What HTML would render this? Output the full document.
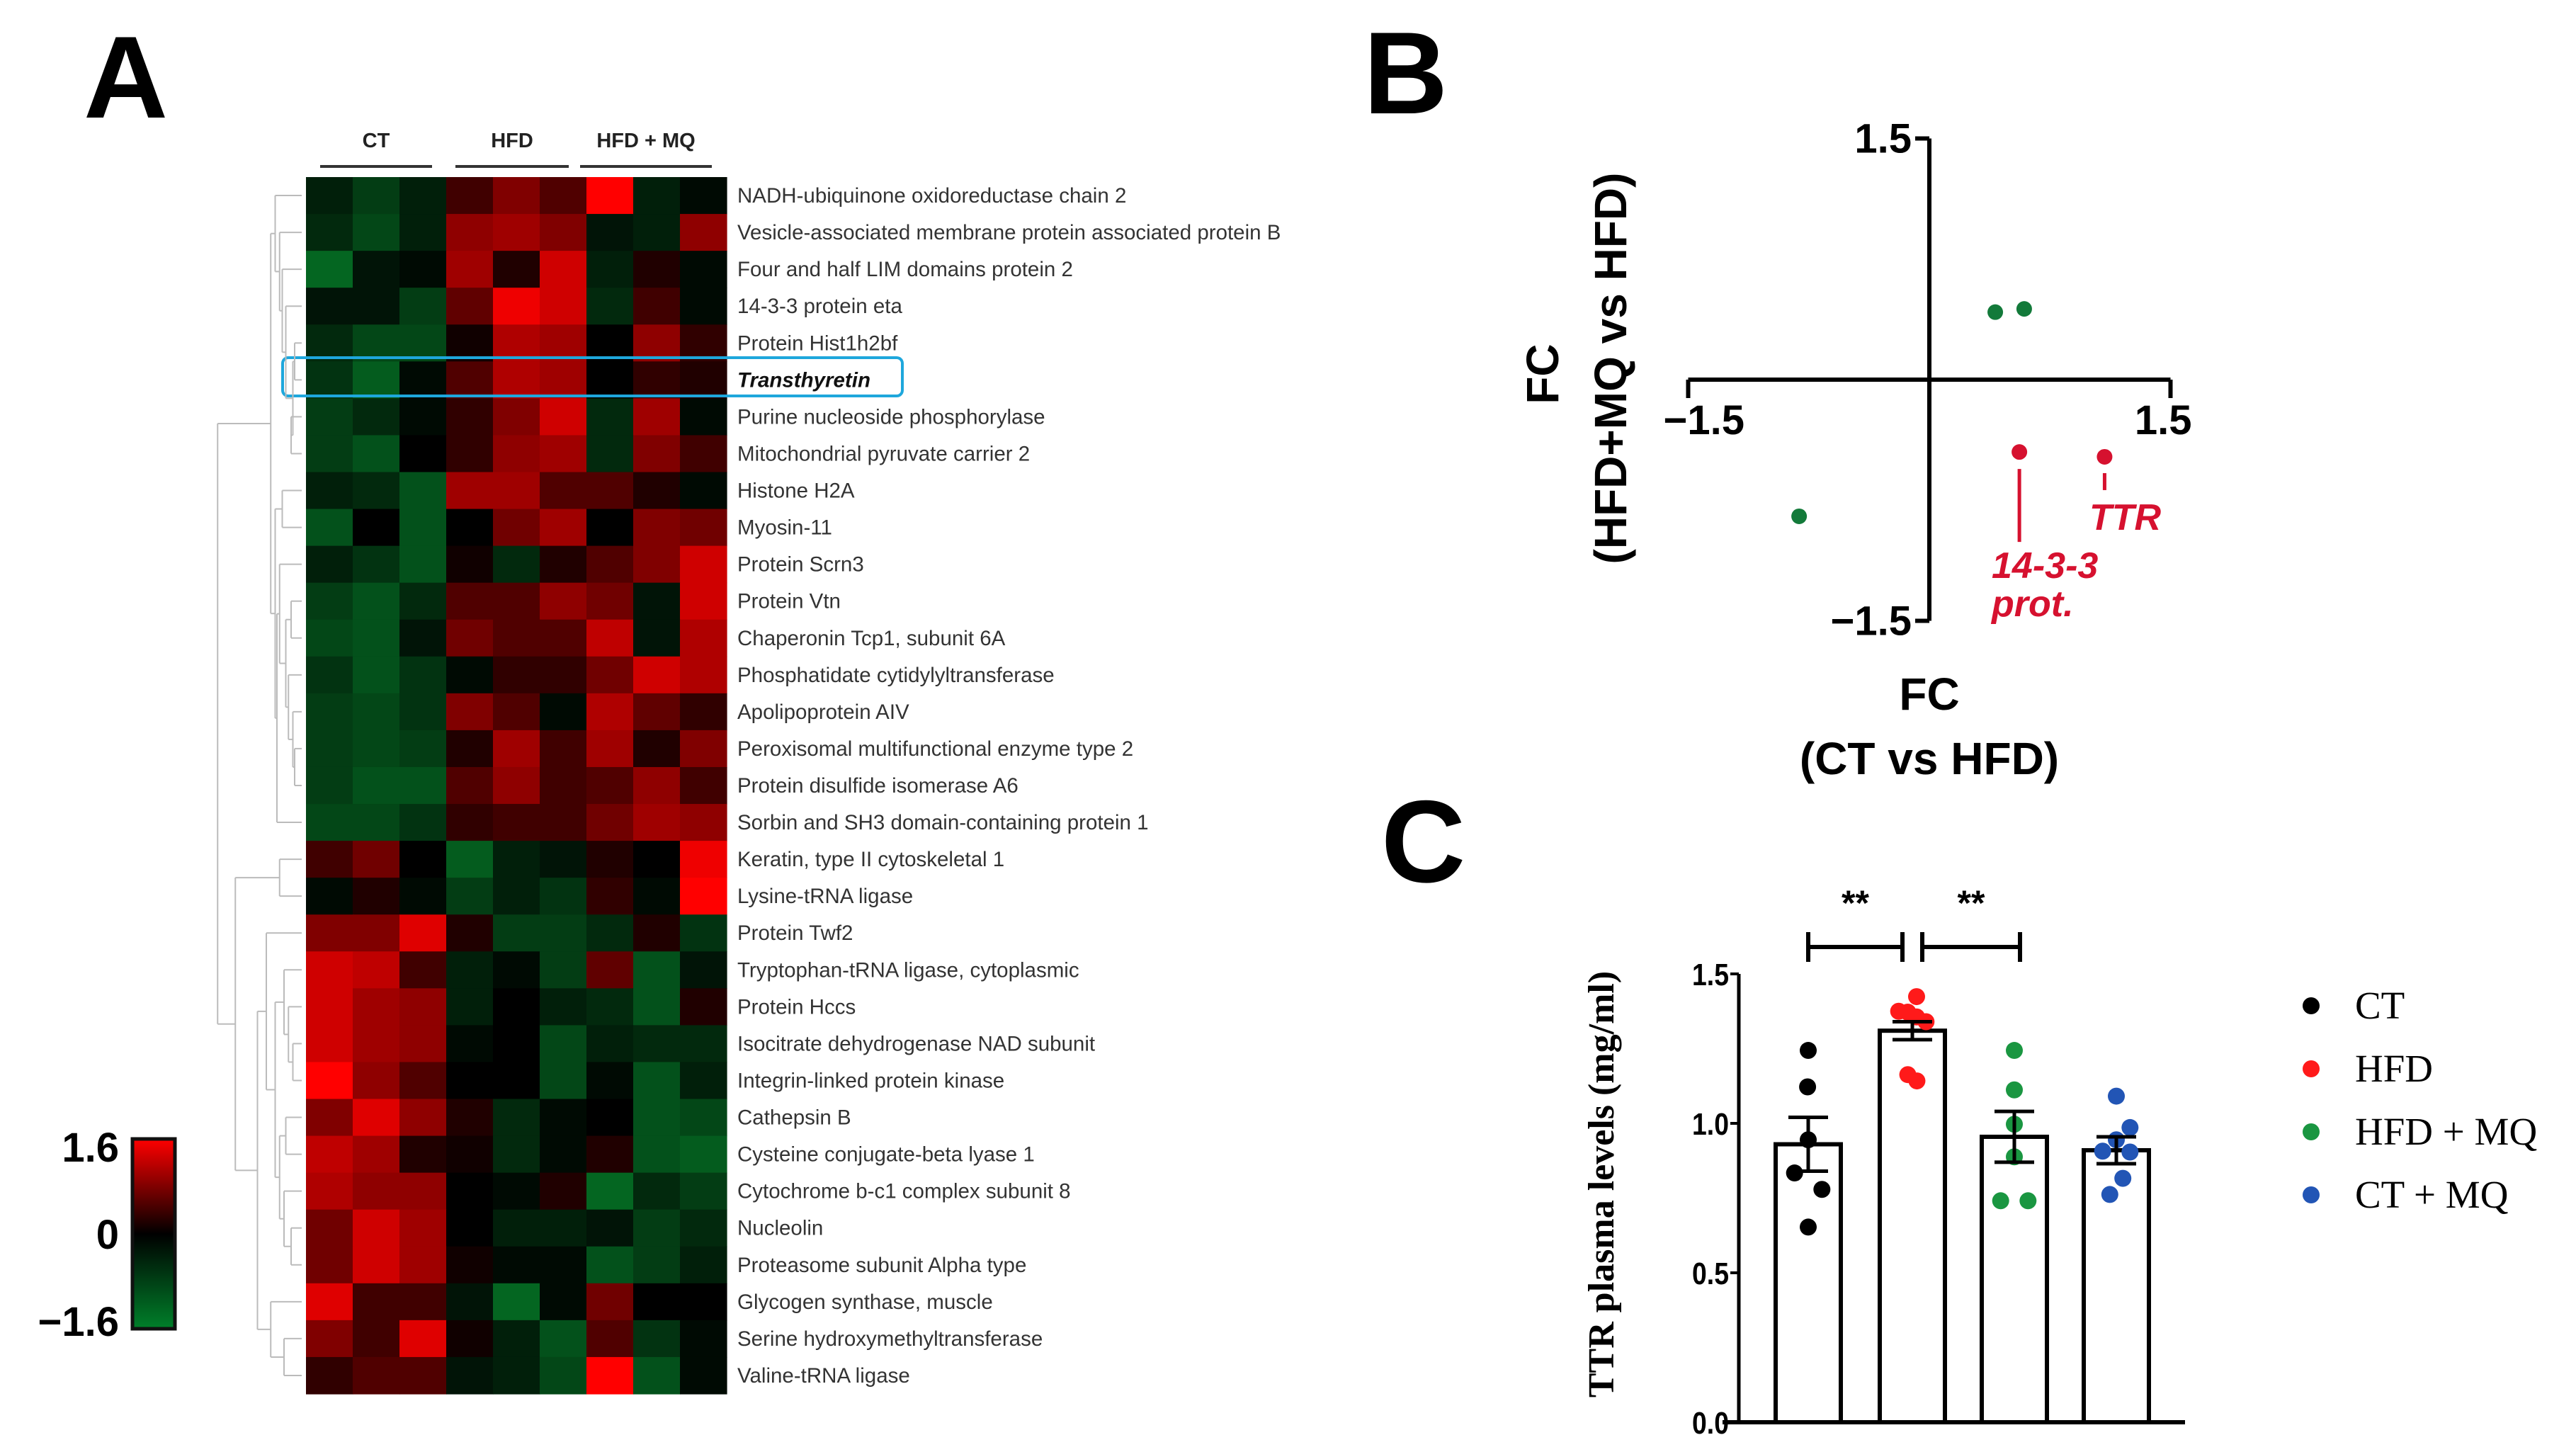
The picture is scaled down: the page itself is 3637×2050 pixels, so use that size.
<!DOCTYPE html>
<html><head><meta charset="utf-8">
<style>
html,body{margin:0;padding:0;background:#fff;}
svg{display:block;}
text{font-family:"Liberation Sans",Arial,sans-serif;}
.serif{font-family:"Liberation Serif","Times New Roman",serif;}
</style></head>
<body>
<svg id="fig" width="3637" height="2050" viewBox="0 0 3637 2050" xmlns="http://www.w3.org/2000/svg">
<g id="panelA"></g>
<g id="panelB"></g>
<g id="panelC"></g>
</svg>
<script>
// ---------- Panel A data ----------
const proteins = ["NADH-ubiquinone oxidoreductase chain 2","Vesicle-associated membrane protein associated protein B","Four and half LIM  domains protein 2","14-3-3 protein eta","Protein Hist1h2bf","Transthyretin","Purine nucleoside phosphorylase","Mitochondrial pyruvate carrier 2","Histone H2A","Myosin-11","Protein Scrn3","Protein Vtn","Chaperonin Tcp1, subunit 6A","Phosphatidate cytidylyltransferase","Apolipoprotein AIV","Peroxisomal multifunctional enzyme type 2","Protein disulfide isomerase A6","Sorbin and SH3 domain-containing protein 1","Keratin, type II cytoskeletal 1","Lysine-tRNA ligase","Protein Twf2","Tryptophan-tRNA ligase, cytoplasmic","Protein Hccs","Isocitrate dehydrogenase NAD subunit","Integrin-linked protein kinase","Cathepsin B","Cysteine conjugate-beta lyase 1","Cytochrome b-c1 complex subunit 8","Nucleolin","Proteasome subunit Alpha type","Glycogen synthase, muscle","Serine hydroxymethyltransferase","Valine-tRNA ligase"];
const groups = ["CT","HFD","HFD + MQ"];
const heatValues = [
[-0.3,-0.6,-0.3, 0.4,0.8,0.5, 1.6,-0.3,-0.1],
[-0.4,-0.7,-0.3, 0.9,1.0,0.8, -0.2,-0.3,0.9],
[-1.0,-0.2,-0.1, 1.0,0.2,1.3, -0.3,0.2,-0.1],
[-0.2,-0.2,-0.6, 0.6,1.5,1.3, -0.4,0.4,-0.1],
[-0.4,-0.7,-0.7, 0.1,1.1,1.0, 0.0,0.9,0.3],
[-0.5,-0.9,-0.1, 0.5,1.1,1.0, 0.0,0.3,0.2],
[-0.6,-0.4,-0.1, 0.3,0.8,1.3, -0.4,1.0,-0.1],
[-0.6,-0.8,0.0, 0.3,0.9,1.0, -0.4,0.8,0.4],
[-0.3,-0.4,-0.8, 1.0,1.0,0.5, 0.5,0.2,-0.1],
[-0.8,0.0,-0.8, 0.0,0.7,1.0, 0.0,0.8,0.7],
[-0.3,-0.5,-0.8, 0.1,-0.4,0.2, 0.5,0.8,1.3],
[-0.6,-0.8,-0.4, 0.5,0.5,0.9, 0.7,-0.2,1.3],
[-0.7,-0.8,-0.2, 0.7,0.5,0.5, 1.2,-0.2,1.1],
[-0.5,-0.8,-0.5, -0.1,0.3,0.3, 0.7,1.3,1.1],
[-0.6,-0.7,-0.5, 0.8,0.5,-0.1, 1.1,0.6,0.3],
[-0.6,-0.7,-0.6, 0.2,1.0,0.4, 1.0,0.2,0.8],
[-0.6,-0.8,-0.8, 0.5,0.9,0.4, 0.5,0.9,0.4],
[-0.7,-0.7,-0.5, 0.3,0.4,0.4, 0.7,1.0,0.9],
[0.4,0.7,0.0, -0.9,-0.3,-0.2, 0.2,0.0,1.5],
[-0.1,0.2,-0.1, -0.6,-0.3,-0.5, 0.3,-0.1,1.6],
[0.8,0.8,1.4, 0.2,-0.6,-0.6, -0.4,0.2,-0.5],
[1.3,1.2,0.4, -0.3,-0.1,-0.6, 0.6,-0.8,-0.2],
[1.3,1.0,0.9, -0.3,0.0,-0.3, -0.4,-0.8,0.2],
[1.3,1.0,0.9, -0.1,0.0,-0.7, -0.3,-0.4,-0.4],
[1.6,0.9,0.5, 0.0,0.0,-0.7, -0.1,-0.8,-0.3],
[0.8,1.4,0.9, 0.2,-0.4,-0.1, 0.0,-0.8,-0.7],
[1.2,1.0,0.2, 0.1,-0.4,-0.1, 0.2,-0.8,-0.9],
[1.1,0.9,0.9, 0.0,-0.1,0.2, -1.0,-0.4,-0.6],
[0.7,1.3,1.0, 0.0,-0.3,-0.3, -0.2,-0.6,-0.4],
[0.7,1.3,1.0, 0.1,-0.1,-0.1, -0.8,-0.6,-0.3],
[1.4,0.4,0.4, -0.2,-1.0,-0.1, 0.7,0.0,0.0],
[0.8,0.4,1.4, 0.1,-0.3,-0.8, 0.5,-0.5,-0.1],
[0.3,0.5,0.5, -0.2,-0.3,-0.7, 1.6,-0.8,-0.1]
];
const colorTicks = ["1.6","0","\u22121.6"];
const colorTickValues = [1.6,0,-1.6];
// dendrogram: [height, left, right]
const dendro = [0.95,
 [0.35,[0.3,0,[0.25,1,[0.22,2,[0.18,3,[0.1,[0.08,4,5],[0.12,6,7]]]]]],
       [0.3,[0.22,8,9],[0.28,[0.25,10,[0.18,[0.12,11,12],[0.15,13,[0.1,14,[0.08,15,16]]]]],17]]],
 [0.75,[0.25,18,19],[0.5,[0.4,20,[0.3,[0.2,21,[0.15,22,[0.1,23,24]]],[0.25,[0.18,25,26],[0.2,27,[0.12,28,29]]]]],[0.35,30,[0.2,31,32]]]]];

// ---------- Panel B data ----------
const fcPointsX = [0.41,0.59,-0.81,0.56,1.09];
const fcPointsY = [0.42,0.44,-0.85,-0.45,-0.48];
const fcPointColors = ["green","green","green","red","red"];
const fcTicks = ["\u22121.5","1.5"];

// ---------- Panel C data ----------
const barGroups = ["CT","HFD","HFD + MQ","CT + MQ"];
const barMeans = [0.93,1.31,0.955,0.91];
const barSEM = [0.09,0.03,0.085,0.045];
const ptsCT = [1.244,1.122,0.945,0.834,0.779,0.653];
const ptsHFD = [1.424,1.375,1.372,1.356,1.340,1.163,1.142];
const ptsMQ = [1.244,1.112,0.997,0.888,0.741,0.741];
const ptsCTMQ = [1.091,0.986,0.945,0.907,0.904,0.816,0.762];
const jitCT = [0,-0.02,0,-0.42,0.42,0];
const jitHFD = [0.13,-0.42,-0.14,0.13,0.42,-0.14,0.14];
const jitMQ = [0,0,0,0,-0.42,0.42];
const jitCTMQ = [0,0.42,0,-0.42,0.42,0.2,-0.2];
const yTicksC = [0,0.5,1.0,1.5];
const yTickLabelsC = ["0.0","0.5","1.0","1.5"];
const groupColors = ["#000000","#ff1a1a","#1a9641","#2255b5"];

const NS="http://www.w3.org/2000/svg";
function mk(parent,tag,attrs,txt){const e=document.createElementNS(NS,tag);for(const k in attrs)e.setAttribute(k,attrs[k]);if(txt!==undefined)e.textContent=txt;parent.appendChild(e);return e;}

// ================= Panel A =================
const A=document.getElementById('panelA');
let t=mk(A,'text',{x:118,y:166,'font-size':165,'font-weight':'bold'},'A');



const hx0=432,hy0=250,cw=66,ch=(1968-250)/33;
function heatColor(v){
  if(v>=0){const r=Math.round(Math.min(1,v/1.6)*255);return `rgb(${r},0,0)`;}
  const a=Math.min(1,-v/1.2);return `rgb(${Math.round(a*5)},${Math.round(a*122)},${Math.round(a*40)})`;
}
heatValues.forEach((row,i)=>{
  row.forEach((v,j)=>{
    const r=mk(A,'rect',{x:hx0+j*cw,y:hy0+i*ch,width:cw+0.6,height:ch+0.6,fill:heatColor(v)});
    
    
  });
  const lbl=mk(A,'text',{x:1041,y:hy0+i*ch+ch/2+10,'font-size':29.5,fill:'#333'},proteins[i]);
  if(i===5){lbl.setAttribute('font-weight','bold');lbl.setAttribute('font-style','italic');lbl.setAttribute('fill','#111');}
  
  
});
// group headers
const gx=[[452,610],[643,803],[819,1005]];
groups.forEach((g,k)=>{
  const tt=mk(A,'text',{x:(gx[k][0]+gx[k][1])/2,y:208,'font-size':29,'font-weight':'bold','text-anchor':'middle',fill:'#222'},g);
  
  
  const ln=mk(A,'line',{x1:gx[k][0],x2:gx[k][1],y1:235,y2:235,stroke:'#333','stroke-width':4});
  
  
});
// highlight box
const hb=mk(A,'rect',{x:399,y:505,width:875,height:54,rx:8,fill:'none',stroke:'#1ea7dc','stroke-width':4});


// dendrogram
const dg=mk(A,'g',{stroke:'#bbb','stroke-width':2,fill:'none'});


function drawNode(n){
  if(typeof n==='number') return {x:hx0-6,y:hy0+n*ch+ch/2};
  const x=hx0-6-n[0]*125;const a=drawNode(n[1]),b=drawNode(n[2]);
  mk(dg,'line',{x1:a.x,x2:x,y1:a.y,y2:a.y});
  mk(dg,'line',{x1:b.x,x2:x,y1:b.y,y2:b.y});
  mk(dg,'line',{x1:x,x2:x,y1:a.y,y2:b.y});
  return {x:x,y:(a.y+b.y)/2};
}
drawNode(dendro);
// color bar
const defs=mk(A,'defs',{});
const grad=mk(defs,'linearGradient',{id:'cbg',x1:0,y1:0,x2:0,y2:1});
mk(grad,'stop',{offset:'0',"stop-color":'#ff0000'});
mk(grad,'stop',{offset:'0.5',"stop-color":'#000000'});
mk(grad,'stop',{offset:'1',"stop-color":'#00802a'});
const cb=mk(A,'rect',{x:187,y:1608,width:60,height:268,fill:'url(#cbg)',stroke:'#111','stroke-width':5});


colorTicks.forEach((s,k)=>{
  const y=1742-colorTickValues[k]/1.6*123;
  const ct=mk(A,'text',{x:168,y:y+21,'font-size':58,'font-weight':'bold','text-anchor':'end'},s);
  
  
});

// ================= Panel B =================
const B=document.getElementById('panelB');
t=mk(B,'text',{x:1925,y:160,'font-size':165,'font-weight':'bold'},'B');


const bcx=2724,bcy=536,bs=227;
const bx=v=>bcx+v*bs, by=v=>bcy-v*bs;
const axB=mk(B,'g',{stroke:'#000','stroke-width':6,fill:'none'});


mk(axB,'line',{x1:bx(0),x2:bx(0),y1:by(1.5),y2:by(-1.5)});
mk(axB,'line',{x1:bx(-1.5),x2:bx(1.5),y1:by(0),y2:by(0)});
mk(axB,'line',{x1:bx(-1.5),x2:bx(-1.5),y1:by(0),y2:by(0)+26});
mk(axB,'line',{x1:bx(1.5),x2:bx(1.5),y1:by(0),y2:by(0)+26});
mk(axB,'line',{x1:bx(0),x2:bx(0)-20,y1:by(1.5),y2:by(1.5)});
mk(axB,'line',{x1:bx(0),x2:bx(0)-20,y1:by(-1.5),y2:by(-1.5)});
[[bx(-1.5)-35,by(0)+77,fcTicks[0],'start'],[bx(1.5)+30,by(0)+77,fcTicks[1],'end'],[bx(0)-25,by(1.5)+20,fcTicks[1],'end'],[bx(0)-25,by(-1.5)+20,fcTicks[0],'end']].forEach(d=>{
  const tk=mk(B,'text',{x:d[0],y:d[1],'font-size':58,'font-weight':'bold','text-anchor':d[3]},d[2]);
  
  
});
fcPointsX.forEach((v,i)=>{
  const c=mk(B,'circle',{cx:bx(v),cy:by(fcPointsY[i]),r:11,fill:fcPointColors[i]==='green'?'#137a3a':'#d6112f'});
  
  
});
let al=mk(B,'line',{x1:bx(fcPointsX[3]),x2:bx(fcPointsX[3]),y1:by(fcPointsY[3])+24,y2:by(fcPointsY[3])+127,stroke:'#d6112f','stroke-width':5});


al=mk(B,'line',{x1:bx(fcPointsX[4]),x2:bx(fcPointsX[4]),y1:by(fcPointsY[4])+23,y2:by(fcPointsY[4])+47,stroke:'#d6112f','stroke-width':5});


[[2812,816,'14-3-3'],[2812,870,'prot.'],[2950,748,'TTR']].forEach(d=>{
  const a=mk(B,'text',{x:d[0],y:d[1],'font-size':52,'font-weight':'bold','font-style':'italic',fill:'#d6112f'},d[2]);
  
  
});
let yt=mk(B,'text',{x:0,y:0,'font-size':64,'font-weight':'bold','text-anchor':'middle',transform:'translate(2200,528) rotate(-90)'},'FC');


yt=mk(B,'text',{x:0,y:0,'font-size':64,'font-weight':'bold','text-anchor':'middle',transform:'translate(2296,520) rotate(-90)'},'(HFD+MQ vs HFD)');


yt=mk(B,'text',{x:2724,y:1002,'font-size':64,'font-weight':'bold','text-anchor':'middle'},'FC');


yt=mk(B,'text',{x:2724,y:1093,'font-size':64,'font-weight':'bold','text-anchor':'middle'},'(CT vs HFD)');



// ================= Panel C =================
const C=document.getElementById('panelC');
t=mk(C,'text',{x:1950,y:1245,'font-size':165,'font-weight':'bold'},'C');


const cy0=2008, cys=422, axX=2455;
const cyv=v=>cy0-v*cys;
const barCenters=[2553,2700,2844,2988], barW=92;
const cx=(i,j)=>barCenters[i]+j*barW/2;
let ax=mk(C,'line',{x1:axX,x2:axX,y1:cyv(1.5),y2:cy0,stroke:'#000','stroke-width':5});


ax=mk(C,'line',{x1:2432,x2:3085,y1:cy0,y2:cy0,stroke:'#000','stroke-width':6});


yTicksC.forEach((v,k)=>{
  const tl=mk(C,'line',{x1:axX-12,x2:axX,y1:cyv(v),y2:cyv(v),stroke:'#000','stroke-width':4});
  
  
  const tx=mk(C,'text',{x:axX-14,y:cyv(v)+16,'font-size':44,'font-weight':'bold','text-anchor':'end',transform:`translate(${axX-14},0) scale(0.85,1) translate(${-(axX-14)},0)`},yTickLabelsC[k]);
  
  
});
barMeans.forEach((m,i)=>{
  const r=mk(C,'rect',{x:barCenters[i]-barW/2,y:cyv(m),width:barW,height:cy0-cyv(m),fill:'#fff',stroke:'#000','stroke-width':6});
  
  
});
[ptsCT,ptsHFD,ptsMQ,ptsCTMQ].forEach((arr,i)=>{
  const jit=[jitCT,jitHFD,jitMQ,jitCTMQ][i];
  arr.forEach((v,j)=>{
    const c=mk(C,'circle',{cx:cx(i,jit[j]),cy:cyv(v),r:12,fill:groupColors[i]});
    
    
  });
});
barMeans.forEach((m,i)=>{
  const g=mk(C,'g',{stroke:'#000','stroke-width':5});
  
  
  const x=barCenters[i];
  mk(g,'line',{x1:x,x2:x,y1:cyv(m-barSEM[i]),y2:cyv(m+barSEM[i])});
  mk(g,'line',{x1:x-28,x2:x+28,y1:cyv(m-barSEM[i]),y2:cyv(m-barSEM[i])});
  mk(g,'line',{x1:x-28,x2:x+28,y1:cyv(m+barSEM[i]),y2:cyv(m+barSEM[i])});
});
[[0,1],[1,2]].forEach((p,k)=>{
  const g=mk(C,'g',{stroke:'#000','stroke-width':6});
  
  
  const x1=barCenters[p[0]]+(k===0?0:14), x2=barCenters[p[1]]-(k===0?14:0)+(k===0?0:8);
  mk(g,'line',{x1:x1,x2:x2,y1:1337,y2:1337});
  mk(g,'line',{x1:x1,x2:x1,y1:1316,y2:1358});
  mk(g,'line',{x1:x2,x2:x2,y1:1316,y2:1358});
  const s=mk(C,'text',{x:(x1+x2)/2,y:1292,'font-size':50,'font-weight':'bold','text-anchor':'middle'},'**');
  
  
});
yt=mk(C,'text',{x:0,y:0,'font-size':52,'font-weight':'bold','text-anchor':'middle',class:'serif',transform:'translate(2278,1672) rotate(-90)'},'TTR plasma levels (mg/ml)');


barGroups.forEach((g,i)=>{
  const y=1420+i*89;
  const c=mk(C,'circle',{cx:3263,cy:y,r:12,fill:groupColors[i]});
  
  
  const tx=mk(C,'text',{x:3325,y:y+18,'font-size':55,class:'serif'},g);
  
  
});
</script>
</body></html>
